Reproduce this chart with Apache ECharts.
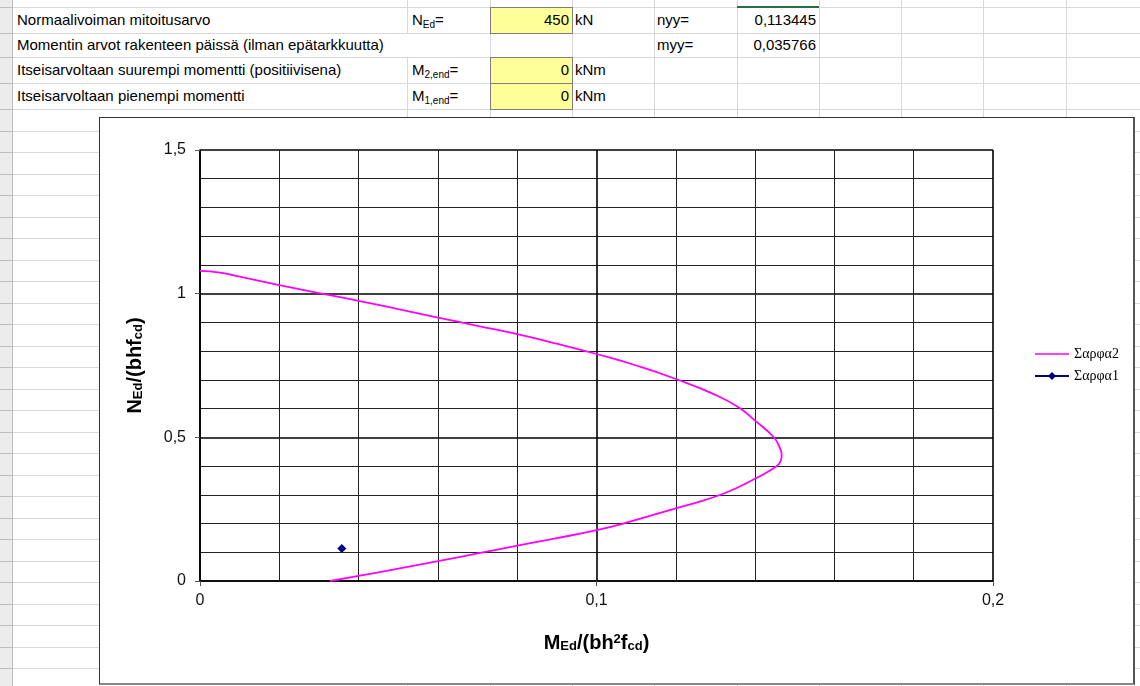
<!DOCTYPE html>
<html>
<head>
<meta charset="utf-8">
<script src="https://cdn.jsdelivr.net/npm/echarts@6/dist/echarts.min.js"></script>
<style>
  html, body { margin:0; padding:0; background:#fff; }
  #sheet { position:absolute; left:0; top:0; width:1140px; height:686px; overflow:hidden; background:#fff;
           font-family:"Liberation Sans", Arial, sans-serif; font-size:15px; color:#000; }
  .hl { position:absolute; height:1px; background:#d9d9d9; }
  .vl { position:absolute; width:1px; background:#d9d9d9; }
  .cell { position:absolute; white-space:nowrap; line-height:1; }
  .yel { position:absolute; background:#ffff99; border:1px solid #7f7f7f; box-sizing:border-box; }
  sub { font-size:10px; vertical-align:-3px; line-height:0; }
  #chartBox { position:absolute; left:99px; top:117px; width:1036px; height:568px; background:#fff; }
  #chartBorder { position:absolute; left:99px; top:117px; width:1036px; height:568px; box-sizing:border-box;
                 border:1px solid #333; border-right:2px solid #555; border-bottom:2px solid #888; pointer-events:none; }
  #chart { position:absolute; left:0; top:0; width:1036px; height:568px; }
</style>
</head>
<body>
<div id="sheet"></div>
<div id="chartBox"><div id="chart"></div></div>
<div id="chartBorder"></div>
<script>
// ---------- data ----------
const sheetLabels = [
  "Normaalivoiman mitoitusarvo",
  "Momentin arvot rakenteen päissä (ilman epätarkkuutta)",
  "Itseisarvoltaan suurempi momentti (positiivisena)",
  "Itseisarvoltaan pienempi momentti"
];
const sheetSymbols = ["N<sub>Ed</sub>=", "", "M<sub>2,end</sub>=", "M<sub>1,end</sub>="];
const sheetValues = ["450", "", "0", "0"];
const sheetUnits = ["kN", "", "kNm", "kNm"];
const resultNames = ["nyy=", "myy="];
const resultValues = ["0,113445", "0,035766"];

const seriesNames = ["Σαρφα2", "Σαρφα1"];
// interaction curve (M/(bh²fcd), N/(bhfcd))
const curveM = [0, 0.005, 0.01, 0.02, 0.03, 0.04, 0.05, 0.06, 0.07, 0.08, 0.09, 0.1, 0.11, 0.12, 0.13, 0.136, 0.14, 0.1446, 0.1462, 0.1467, 0.1465, 0.1455, 0.14, 0.136, 0.1316, 0.126, 0.12, 0.1067, 0.1, 0.09, 0.08, 0.07, 0.06, 0.05, 0.04, 0.0328];
const curveN = [1.079, 1.073, 1.059, 1.030, 1.002, 0.975, 0.946, 0.917, 0.888, 0.859, 0.826, 0.790, 0.750, 0.703, 0.648, 0.603, 0.558, 0.502, 0.465, 0.438, 0.420, 0.400, 0.356, 0.328, 0.302, 0.276, 0.253, 0.200, 0.177, 0.149, 0.123, 0.096, 0.069, 0.043, 0.018, 0];
const pointM = [0.035766];
const pointN = [0.113445];

const xTickValues = [0, 0.1, 0.2];
const yTickValues = [0, 0.5, 1, 1.5];

// ---------- spreadsheet background ----------
const sheet = document.getElementById('sheet');
function add(cls, css, html) {
  const d = document.createElement('div');
  d.className = cls;
  Object.assign(d.style, css);
  if (html !== undefined) d.innerHTML = html;
  sheet.appendChild(d);
  return d;
}
const colX = [12, 407, 490, 572, 654, 737, 819, 901, 983, 1066];
const rowY = [7, 33, 57, 83, 109];
for (let y = 109 + 21.5; y < 690; y += 21.5) rowY.push(Math.round(y));
add('', {position:'absolute', left:'0px', top:'0px', width:'12px', height:'686px', background:'#ececec', borderRight:'1px solid #bdbdbd'});
rowY.forEach(y => add('hl', {left:'0px', top:y+'px', width:'12px', background:'#bdbdbd'}));
rowY.forEach(y => add('hl', {left:'13px', top:y+'px', width:'1127px'}));
colX.forEach((x, i) => {
  if (i === 0) return;
  if (x === 407) {
    add('vl', {left:x+'px', top:'0px', height:'33px'});
    add('vl', {left:x+'px', top:'57px', height:'629px'});
  } else {
    add('vl', {left:x+'px', top:'0px', height:'686px'});
  }
});
add('', {position:'absolute', left:'737px', top:'6px', width:'82px', height:'2px', background:'#217346'});
[0, 2, 3].forEach(r => add('yel', {left:'490px', top:rowY[r]+'px', width:'83px', height:(rowY[r+1]-rowY[r]+1)+'px'}));
sheetLabels.forEach((t, r) => {
  const cy = (rowY[r] + rowY[r+1]) / 2;
  add('cell', {left:'17px', top:(cy-8)+'px'}, t);
  if (sheetSymbols[r]) add('cell', {left:'412px', top:(cy-8)+'px'}, sheetSymbols[r]);
  if (sheetValues[r]) add('cell', {left:'490px', width:'79px', textAlign:'right', top:(cy-8)+'px'}, sheetValues[r]);
  if (sheetUnits[r]) add('cell', {left:'575px', top:(cy-8)+'px'}, sheetUnits[r]);
});
resultNames.forEach((t, r) => {
  const cy = (rowY[r] + rowY[r+1]) / 2;
  add('cell', {left:'657px', top:(cy-8)+'px'}, t);
  add('cell', {left:'737px', width:'79px', textAlign:'right', top:(cy-8)+'px'}, resultValues[r]);
});

// ---------- chart ----------
const chart = echarts.init(document.getElementById('chart'), null, {renderer:'canvas'});
const fmt = v => String(+v.toFixed(3)).replace('.', ',');
const gridLine = {show:true, lineStyle:{color:'#000', width:1.6}};
const minorLine = {show:true, lineStyle:{color:'#222', width:1}};
const nameRich = {
  b:   {fontFamily:'Liberation Sans', fontWeight:'bold', fontSize:20, color:'#000'},
  sub: {fontFamily:'Liberation Sans', fontWeight:'bold', fontSize:13, color:'#000', verticalAlign:'bottom', padding:[7,0,0,0]},
  sup: {fontFamily:'Liberation Sans', fontWeight:'bold', fontSize:13, color:'#000', verticalAlign:'top', padding:[0,0,7,0]}
};
chart.setOption({
  animation:false,
  backgroundColor:'#fff',
  grid:{left:101, top:33, width:793, height:431, containLabel:false},
  legend:{
    orient:'vertical', left:935, top:230, padding:0,
    itemWidth:34, itemHeight:10, itemGap:8,
    textStyle:{fontFamily:'Liberation Serif', fontSize:14, color:'#000'},
    data:[
      {name:seriesNames[0], icon:'path://M0,4.2 L34,4.2 L34,5.8 L0,5.8 Z'},
      {name:seriesNames[1]}
    ]
  },
  xAxis:{
    type:'value', min:0, max:0.2, interval:0.1,
    axisLine:{show:true, onZero:false, lineStyle:{color:'#000', width:1.6}},
    axisTick:{show:true, length:5, lineStyle:{color:'#555'}},
    axisLabel:{formatter:fmt, margin:12, fontFamily:'Liberation Sans', fontSize:16, color:'#111'},
    splitLine:gridLine,
    minorTick:{show:false, splitNumber:5},
    minorSplitLine:minorLine,
    name:'{b|M}{sub|Ed}{b|/(bh}{sup|2}{b|f}{sub|cd}{b|)}',
    nameLocation:'middle', nameGap:52,
    nameTextStyle:{rich:nameRich}
  },
  yAxis:{
    type:'value', min:0, max:1.5, interval:0.5,
    axisLine:{show:true, onZero:false, lineStyle:{color:'#000', width:1.6}},
    axisTick:{show:true, length:5, lineStyle:{color:'#555'}},
    axisLabel:{formatter:fmt, margin:14, fontFamily:'Liberation Sans', fontSize:16, color:'#111'},
    splitLine:gridLine,
    minorTick:{show:false, splitNumber:5},
    minorSplitLine:minorLine,
    name:'{b|N}{sub|Ed}{b|/(bhf}{sub|cd}{b|)}',
    nameLocation:'middle', nameGap:55, nameRotate:90,
    nameTextStyle:{rich:nameRich}
  },
  series:[
    {
      name:seriesNames[0], type:'line', symbol:'none', smooth:0.5,
      data:curveM.map((m, i) => [m, curveN[i]]),
      lineStyle:{color:'#ff00ff', width:1.8}, itemStyle:{color:'#ff00ff'}, z:5
    },
    {
      name:seriesNames[1], type:'line', symbol:'diamond', symbolSize:9,
      data:pointM.map((m, i) => [m, pointN[i]]),
      lineStyle:{color:'#000080', width:1.5}, itemStyle:{color:'#000080'}, z:6
    }
  ]
});
</script>
</body>
</html>
